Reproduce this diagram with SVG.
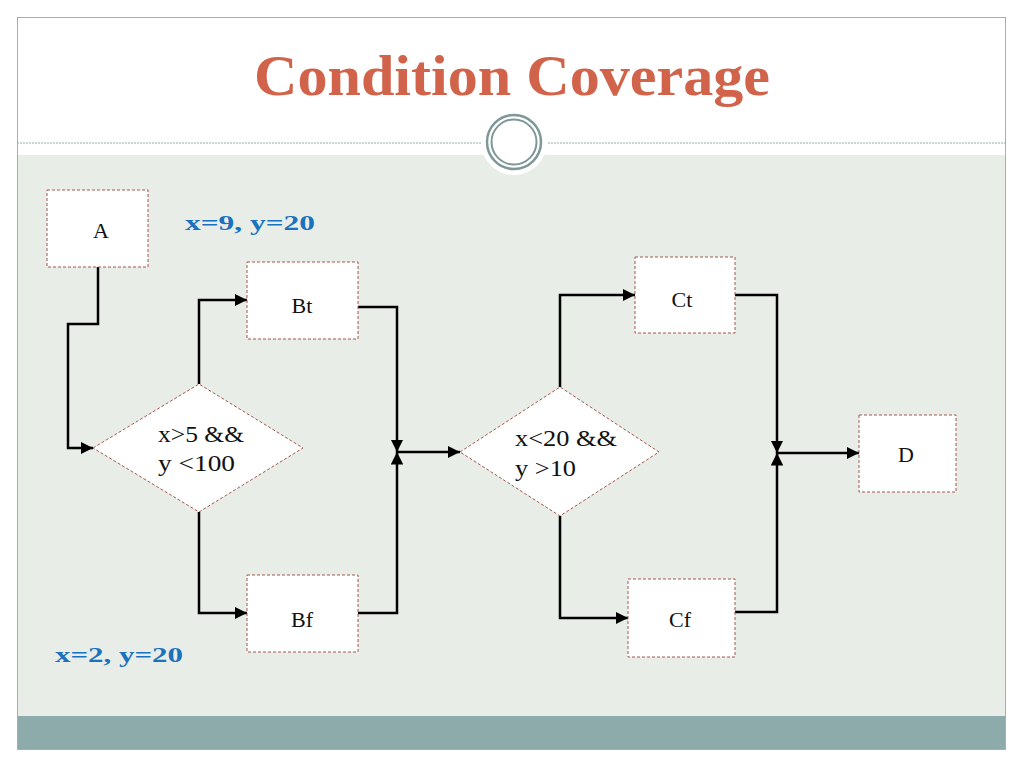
<svg xmlns="http://www.w3.org/2000/svg" width="1024" height="768" viewBox="0 0 1024 768">
<defs>
<style>
.node{fill:#ffffff;stroke:#a5564c;stroke-width:1;stroke-dasharray:3 2}
.lbl{font-family:"Liberation Serif","DejaVu Serif",serif;font-size:22px;fill:#111}
.cnd{font-family:"Liberation Serif","DejaVu Serif",serif;font-size:23px;fill:#111}
.note{font-family:"Liberation Serif","DejaVu Serif",serif;font-size:21px;font-weight:bold;fill:#1a72bf}
.wire{fill:none;stroke:#000;stroke-width:2.5}
</style>
<marker id="ah" viewBox="0 0 10 10" refX="10" refY="5" markerWidth="5" markerHeight="5" orient="auto" markerUnits="strokeWidth">
<path d="M0,0 L10,5 L0,10 Z" fill="#000"/>
</marker>
</defs>
<rect x="0" y="0" width="1024" height="768" fill="#ffffff"/>
<rect x="17" y="155" width="989" height="561" fill="#e8ede7"/>
<rect x="17" y="716" width="989" height="34" fill="#8dabab"/>
<rect x="17.5" y="17.5" width="988" height="732" fill="none" stroke="#9fb1b1" stroke-width="1"/>
<line x1="17" y1="143" x2="482" y2="143" stroke="#9aa8a8" stroke-width="1" stroke-dasharray="2 1"/>
<line x1="548" y1="143" x2="1006" y2="143" stroke="#9aa8a8" stroke-width="1" stroke-dasharray="2 1"/>
<circle cx="514" cy="142" r="33" fill="#ffffff"/>
<circle cx="514" cy="142" r="27" fill="none" stroke="#7f9797" stroke-width="2.5"/>
<circle cx="514" cy="142" r="22.5" fill="none" stroke="#7f9797" stroke-width="2"/>
<text x="512" y="95" text-anchor="middle" font-family="Liberation Serif, DejaVu Serif, serif" font-weight="bold" font-size="58" fill="#d0634a" textLength="516" lengthAdjust="spacingAndGlyphs">Condition Coverage</text>

<g id="connectors">
<polyline class="wire" points="98,267 98,324 68,324 68,448 93,448" marker-end="url(#ah)"/>
<polyline class="wire" points="199,384 199,300 247,300" marker-end="url(#ah)"/>
<polyline class="wire" points="199,512 199,613 247,613" marker-end="url(#ah)"/>
<polyline class="wire" points="358,307 397,307 397,452" marker-end="url(#ah)"/>
<polyline class="wire" points="358,613 397,613 397,452" marker-end="url(#ah)"/>
<polyline class="wire" points="397,452 460,452" marker-end="url(#ah)"/>
<polyline class="wire" points="560,387 560,295 635,295" marker-end="url(#ah)"/>
<polyline class="wire" points="560,516 560,618 628,618" marker-end="url(#ah)"/>
<polyline class="wire" points="735,295 777,295 777,453" marker-end="url(#ah)"/>
<polyline class="wire" points="735,612 777,612 777,453" marker-end="url(#ah)"/>
<polyline class="wire" points="777,453 859,453" marker-end="url(#ah)"/>
</g>

<g id="node-A"><rect class="node" x="47" y="190" width="101" height="77"/><text class="lbl" x="101" y="238" text-anchor="middle">A</text></g>
<g id="node-Bt"><rect class="node" x="247" y="262" width="111" height="77"/><text class="lbl" x="302" y="313" text-anchor="middle">Bt</text></g>
<g id="node-Bf"><rect class="node" x="247" y="575" width="111" height="77"/><text class="lbl" x="302" y="627" text-anchor="middle">Bf</text></g>
<g id="node-Ct"><rect class="node" x="635" y="257" width="100" height="76"/><text class="lbl" x="682" y="307" text-anchor="middle">Ct</text></g>
<g id="node-Cf"><rect class="node" x="628" y="579" width="107" height="78"/><text class="lbl" x="680" y="627" text-anchor="middle">Cf</text></g>
<g id="node-D"><rect class="node" x="859" y="415" width="97" height="77"/><text class="lbl" x="906" y="462" text-anchor="middle">D</text></g>
<g id="node-cond1"><polygon class="node" points="93,448 199,384 303,448 199,512"/><text class="cnd" x="158" y="442" textLength="86" lengthAdjust="spacingAndGlyphs">x&gt;5 &amp;&amp;</text><text class="cnd" x="158" y="471" textLength="77" lengthAdjust="spacingAndGlyphs">y &lt;100</text></g>
<g id="node-cond2"><polygon class="node" points="460,452 560,387 659,452 560,516"/><text class="cnd" x="515" y="446" textLength="102" lengthAdjust="spacingAndGlyphs">x&lt;20 &amp;&amp;</text><text class="cnd" x="515" y="476" textLength="61" lengthAdjust="spacingAndGlyphs">y &gt;10</text></g>

<g id="note-1"><text class="note" x="185" y="230" textLength="130" lengthAdjust="spacingAndGlyphs">x=9, y=20</text></g>
<g id="note-2"><text class="note" x="55" y="662" textLength="128" lengthAdjust="spacingAndGlyphs">x=2, y=20</text></g>
</svg>
